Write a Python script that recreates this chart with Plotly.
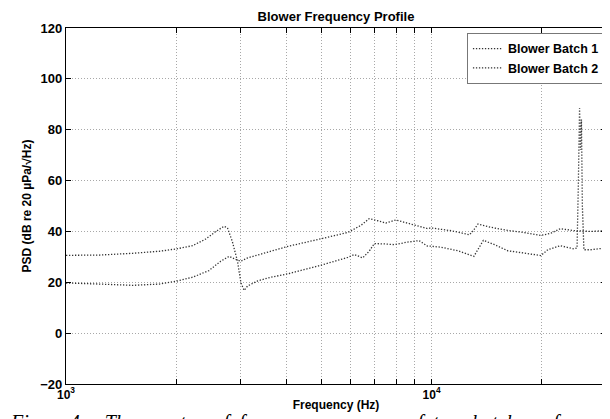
import numpy as np
import plotly.graph_objects as go

# ---- data ----
freq_batch1 = [1000, 1021, 1233, 1521, 1800, 2000, 2220, 2410, 2570, 2705, 2765, 2850,
               2945, 3010, 3070, 3140, 3350, 3640, 4040, 4980, 5900, 6150, 6480, 6750,
               6970, 7420, 7920, 8600, 9240, 9750, 9950, 10600, 11800, 13050, 13500,
               13860, 14860, 16150, 17900, 19900, 20800, 22500, 24500, 25000, 25200,
               25400, 25550, 25700, 25850, 26100, 27200, 30000]
psd_batch1 = [30.6, 30.6, 30.7, 31.4, 32.2, 33.1, 34.4, 37.0, 40.0, 42.0, 41.4, 36.1,
              28.3, 19.7, 16.8, 18.6, 20.6, 22.0, 23.3, 26.7, 29.8, 30.9, 29.6, 32.2,
              35.2, 35.1, 34.8, 35.8, 36.4, 34.2, 34.2, 33.8, 32.4, 30.2, 33.5,
              36.5, 34.8, 32.4, 31.5, 30.5, 32.8, 34.4, 33.1, 33.5, 58.0,
              88.5, 72.0, 84.0, 50.0, 32.8, 32.8, 33.5]

freq_batch2 = [1000, 1021, 1233, 1521, 1800, 2000, 2220, 2460, 2650, 2795, 2910, 3010,
               3140, 3640, 4040, 4980, 5900, 6410, 6750, 7130, 7500, 7990, 8600, 9150,
               9750, 9950, 11300, 12700, 12950, 13400, 14550, 16150, 17900, 19900,
               21200, 22500, 24500, 27200, 30000]
psd_batch2 = [19.7, 19.7, 19.3, 18.8, 19.3, 20.4, 22.0, 24.6, 28.3, 30.2, 29.0, 28.3,
              29.6, 32.4, 34.1, 37.1, 39.6, 42.4, 45.0, 44.2, 43.3, 44.5, 43.3, 42.0,
              41.1, 41.4, 40.3, 38.7, 40.0, 42.9, 41.6, 40.4, 39.6, 38.4,
              39.3, 41.1, 40.3, 40.0, 40.3]

series_names = ["Blower Batch 1", "Blower Batch 2"]
x_major_vals = [1000, 10000]
x_major_text = ["10<sup>3</sup>", "10<sup>4</sup>"]
x_minor_vals = [2000, 3000, 4000, 5000, 6000, 7000, 8000, 9000, 20000, 30000]
y_ticks = [-20, 0, 20, 40, 60, 80, 100, 120]

FONT = "Liberation Sans"
GRID = "#a8a8a8"
GRIDDASH = "1px,2px"

fig = go.Figure()
for f, p, name in [(freq_batch1, psd_batch1, series_names[0]),
                   (freq_batch2, psd_batch2, series_names[1])]:
    fig.add_trace(go.Scatter(x=f, y=p, mode="lines", name=name,
                             line=dict(color="#333333", width=1.3, dash="1.3px,1.7px")))

fig.update_layout(
    width=610, height=419, autosize=False,
    margin=dict(l=58, r=12, t=20, b=43),
    paper_bgcolor="white", plot_bgcolor="white",
    font=dict(family=FONT, size=12, color="black", weight=700),
    title=dict(text="Blower Frequency Profile", x=0.5, xref="paper", xanchor="center",
               y=1 - 8 / 419, yref="container", yanchor="middle", pad=dict(t=0, b=0),
               font=dict(family=FONT, size=13, weight=700)),
    showlegend=True,
    legend=dict(x=0.998, y=0.986, xanchor="right", yanchor="top",
                bgcolor="white", bordercolor="#777777", borderwidth=1,
                font=dict(family=FONT, size=12.5, weight=700),
                tracegroupgap=0, itemwidth=30),
    xaxis=dict(type="log", range=[3, np.log10(30000)],
               tickmode="array", tickvals=x_major_vals, ticktext=x_major_text,
               ticks="inside", ticklen=5, tickcolor="black",
               ticklabelstandoff=-1,
               minor=dict(tickmode="array", tickvals=x_minor_vals, ticks="inside",
                          ticklen=5, tickcolor="black", showgrid=True,
                          gridcolor=GRID, griddash=GRIDDASH, gridwidth=1),
               showline=True, linecolor="black", linewidth=1.2, mirror="ticks",
               showgrid=True, gridcolor=GRID, griddash=GRIDDASH, gridwidth=1,
               tickfont=dict(family=FONT, size=12, weight=700),
               title=dict(text="Frequency (Hz)", standoff=0,
                          font=dict(family=FONT, size=12, weight=700)),
               zeroline=False),
    yaxis=dict(range=[-20, 120], tickmode="array", tickvals=y_ticks,
               ticks="inside", ticklen=5, tickcolor="black",
               showline=True, linecolor="black", linewidth=1.2, mirror="ticks",
               showgrid=True, gridcolor=GRID, griddash=GRIDDASH, gridwidth=1,
               tickfont=dict(family=FONT, size=13, weight=700),
               title=dict(text="PSD (dB re 20 µPa/√Hz)", standoff=6,
                          font=dict(family=FONT, size=12, weight=700)),
               zeroline=False),
)

fig.add_annotation(text="<i>Figure 4.</i>    <i>The  spectra  of  frequency  response  of  two  batches  of</i>",
                   xref="paper", yref="paper", x=-0.107, y=-0.071,
                   xanchor="left", yanchor="top", showarrow=False,
                   font=dict(family="Liberation Serif", size=20, color="black", weight=400))

fig.write_html("out.html")
